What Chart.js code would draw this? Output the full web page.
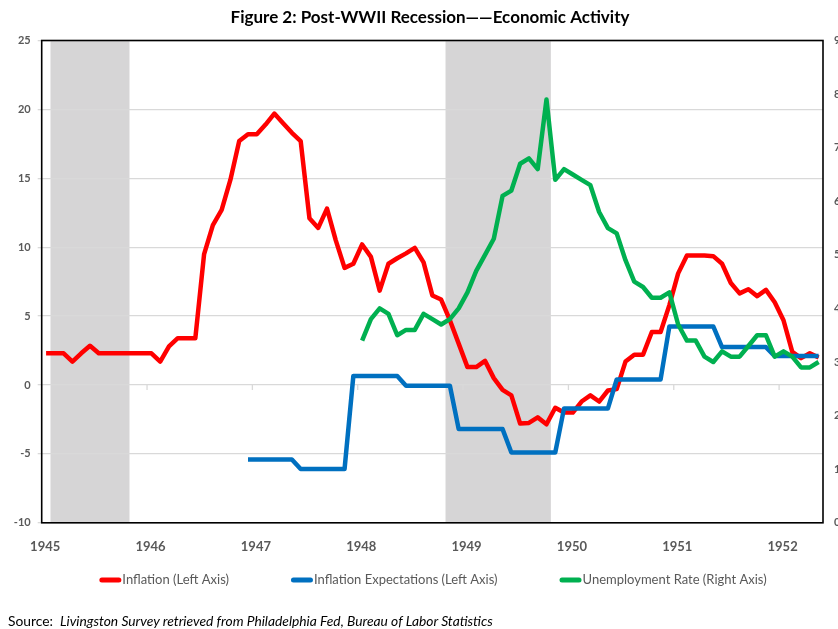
<!DOCTYPE html>
<html>
<head>
<meta charset="utf-8">
<script src="https://cdn.jsdelivr.net/npm/chart.js@4.4.0/dist/chart.umd.min.js"></script>
<style>
html, body { margin: 0; padding: 0; background: #fff; overflow: hidden; width: 838px; height: 629px; }
#wrap { position: relative; width: 860px; height: 629px; }
#source { position: absolute; left: 8px; top: 612px; font-family: Lato, sans-serif; font-size: 13.8px; color: #000; white-space: nowrap; }
</style>
</head>
<body>
<div id="wrap">
  <canvas id="c" width="860" height="629"></canvas>
  <div id="source">Source:&nbsp; <i>Livingston Survey retrieved from Philadelphia Fed, Bureau of Labor Statistics</i></div>
</div>
<script>
// ---- data (monthly, Jan 1945 = month index 0) ----
const titleText = 'Figure 2: Post-WWII Recession\u2014\u2014Economic Activity';
const monthCount = 89; // Jan 1945 .. May 1952
const yearLabels = ['1945', '1946', '1947', '1948', '1949', '1950', '1951', '1952'];
const leftTicks = [-10, -5, 0, 5, 10, 15, 20, 25];
const rightTicks = [0, 1, 2, 3, 4, 5, 6, 7, 8, 9];
const seriesNames = ['Inflation (Left Axis)', 'Inflation Expectations (Left Axis)', 'Unemployment Rate (Right Axis)'];

// Recessions: [first month index, month index after last month]  (Feb–Oct 1945, Nov 1948–Oct 1949)
const recessions = [[1, 10], [46, 58]];

const inflationStart = 0;
const inflation = [
  2.3, 2.3, 2.3, 1.7, 2.3, 2.85, 2.3, 2.3, 2.3, 2.3, 2.3, 2.3,          // 1945
  2.3, 1.7, 2.8, 3.4, 3.4, 3.4, 9.5, 11.6, 12.7, 14.9, 17.7, 18.2,      // 1946
  18.2, 18.9, 19.7, 19.0, 18.3, 17.7, 12.1, 11.4, 12.8, 10.5, 8.5, 8.8, // 1947
  10.2, 9.3, 6.85, 8.8, 9.2, 9.55, 9.95, 8.9, 6.5, 6.2, 4.7, 3.0,       // 1948
  1.3, 1.3, 1.75, 0.5, -0.35, -0.75, -2.8, -2.75, -2.35, -2.85, -1.65, -2.0, // 1949
  -2.0, -1.2, -0.75, -1.2, -0.4, -0.3, 1.7, 2.2, 2.2, 3.85, 3.85, 5.8, // 1950
  8.1, 9.4, 9.4, 9.4, 9.35, 8.8, 7.4, 6.65, 6.95, 6.45, 6.9, 6.0,       // 1951
  4.7, 2.4, 1.95, 2.3, 2.0                                              // 1952
];

const expectationsStart = 23; // Dec 1946
const expectations = [
  -5.4, -5.4, -5.4, -5.4, -5.4, -5.4,
  -6.1, -6.1, -6.1, -6.1, -6.1, -6.1,
  0.65, 0.65, 0.65, 0.65, 0.65, 0.65,
  -0.05, -0.05, -0.05, -0.05, -0.05, -0.05,
  -3.2, -3.2, -3.2, -3.2, -3.2, -3.2,
  -4.9, -4.9, -4.9, -4.9, -4.9, -4.9,
  -1.7, -1.7, -1.7, -1.7, -1.7, -1.7,
  0.4, 0.4, 0.4, 0.4, 0.4, 0.4,
  4.25, 4.25, 4.25, 4.25, 4.25, 4.25,
  2.75, 2.75, 2.75, 2.75, 2.75, 2.75,
  2.1, 2.1, 2.1, 2.1, 2.1, 2.1
];

const unemploymentStart = 36; // Jan 1948
const unemployment = [
  3.4, 3.8, 4.0, 3.9, 3.5, 3.6, 3.6, 3.9, 3.8, 3.7, 3.8, 4.0, // 1948
  4.3, 4.7, 5.0, 5.3, 6.1, 6.2, 6.7, 6.8, 6.6, 7.9, 6.4, 6.6, // 1949
  6.5, 6.4, 6.3, 5.8, 5.5, 5.4, 4.9, 4.5, 4.4, 4.2, 4.2, 4.3, // 1950
  3.7, 3.4, 3.4, 3.1, 3.0, 3.2, 3.1, 3.1, 3.3, 3.5, 3.5, 3.1, // 1951
  3.2, 3.1, 2.9, 2.9, 3.0                                     // 1952
];

const colors = ['#FF0000', '#0070C0', '#00B050'];

// points sit mid-month on a month-based linear axis
const toPoints = (arr, start) => arr.map((v, j) => ({ x: start + j + 0.5, y: v }));

const deco = {
  id: 'deco',
  beforeDraw(chart) {
    const { ctx, chartArea: a, scales: { x } } = chart;
    ctx.save();
    ctx.fillStyle = '#d6d5d6';
    recessions.forEach(([s, e]) => {
      const x0 = x.getPixelForValue(s), x1 = x.getPixelForValue(e);
      ctx.fillRect(x0, a.top, x1 - x0, a.bottom - a.top);
    });
    ctx.restore();
  },
  beforeDatasetsDraw(chart) {
    const { ctx, scales: { x, y } } = chart;
    const y0 = y.getPixelForValue(0);
    ctx.save();
    ctx.strokeStyle = '#d9d9d9';
    ctx.lineWidth = 1.3;
    yearLabels.forEach((_, k) => {
      const px = x.getPixelForValue(12 * k);
      ctx.beginPath();
      ctx.moveTo(px, y0);
      ctx.lineTo(px, y0 + 5);
      ctx.stroke();
    });
    ctx.restore();
  },
  afterDatasetsDraw(chart) {
    const { ctx, chartArea: a } = chart;
    ctx.save();
    ctx.strokeStyle = '#000';
    ctx.lineWidth = 1.6;
    ctx.strokeRect(a.left, a.top, a.right - a.left, a.bottom - a.top);
    ctx.restore();
  },
  afterDraw(chart) {
    const ctx = chart.ctx;
    const yc = 580, markW = 22, textGap = 1, itemGap = 62;
    ctx.save();
    ctx.font = '13px Lato';
    const items = chart.data.datasets.map(d => ({
      label: d.label, color: d.borderColor,
      w: markW + textGap + ctx.measureText(d.label).width
    }));
    const total = items.reduce((s, it) => s + it.w, 0) + itemGap * (items.length - 1);
    let x = 433 - total / 2;
    items.forEach(it => {
      ctx.fillStyle = it.color;
      ctx.beginPath();
      ctx.roundRect(x, yc - 2.5, markW, 5, 2.5);
      ctx.fill();
      ctx.fillStyle = '#595959';
      ctx.textBaseline = 'middle';
      ctx.textAlign = 'left';
      ctx.fillText(it.label, x + markW + textGap, yc);
      x += it.w + itemGap;
    });
    ctx.restore();
  }
};

Chart.defaults.font.family = 'Lato, sans-serif';

new Chart(document.getElementById('c'), {
  type: 'line',
  data: {
    datasets: [
      { label: seriesNames[0], data: toPoints(inflation, inflationStart), yAxisID: 'y',
        borderColor: colors[0], backgroundColor: colors[0], order: 3 },
      { label: seriesNames[1], data: toPoints(expectations, expectationsStart), yAxisID: 'y',
        borderColor: colors[1], backgroundColor: colors[1], order: 2 },
      { label: seriesNames[2], data: toPoints(unemployment, unemploymentStart), yAxisID: 'y2',
        borderColor: colors[2], backgroundColor: colors[2], order: 1 }
    ]
  },
  options: {
    responsive: false,
    animation: false,
    elements: {
      line: { borderWidth: 4.5, tension: 0, borderJoinStyle: 'round', fill: false },
      point: { radius: 0, hoverRadius: 0 }
    },
    layout: { padding: { left: 0, right: 0, top: 0, bottom: 61.2 } },
    plugins: {
      legend: { display: false },
      tooltip: { enabled: false },
      title: {
        display: true, text: titleText, color: '#000',
        font: { size: 17, weight: 'bold' },
        padding: { top: 7.5, bottom: 12.6 }
      }
    },
    scales: {
      x: {
        type: 'linear', min: 0, max: monthCount, position: 'bottom',
        grid: { display: false, drawTicks: false }, border: { display: false },
        afterBuildTicks: s => { s.ticks = yearLabels.map((_, k) => ({ value: 12 * k })); },
        afterFit: s => { s.height = 45; },
        ticks: {
          autoSkip: false, maxRotation: 0, padding: 16, labelOffset: 3.5,
          color: '#595959', font: { size: 13, weight: 'bold' },
          callback: v => yearLabels[Math.round(v / 12)]
        }
      },
      y: {
        position: 'left', min: -10, max: 25,
        afterBuildTicks: s => { s.ticks = leftTicks.map(v => ({ value: v })); },
        afterFit: s => { s.width = 41.7; },
        grid: { color: '#d9d9d9', lineWidth: 1.3, drawTicks: true, tickLength: 4 },
        border: { display: false },
        ticks: { padding: 7, color: '#595959', font: { size: 11, weight: 'bold' } }
      },
      y2: {
        position: 'right', min: 0, max: 9,
        afterBuildTicks: s => { s.ticks = rightTicks.map(v => ({ value: v })); },
        afterFit: s => { s.width = 37; },
        grid: { display: false, drawTicks: false }, border: { display: false },
        ticks: { padding: 11, color: '#595959', font: { size: 11, weight: 'bold' } }
      }
    }
  },
  plugins: [deco]
});
</script>
</body>
</html>
